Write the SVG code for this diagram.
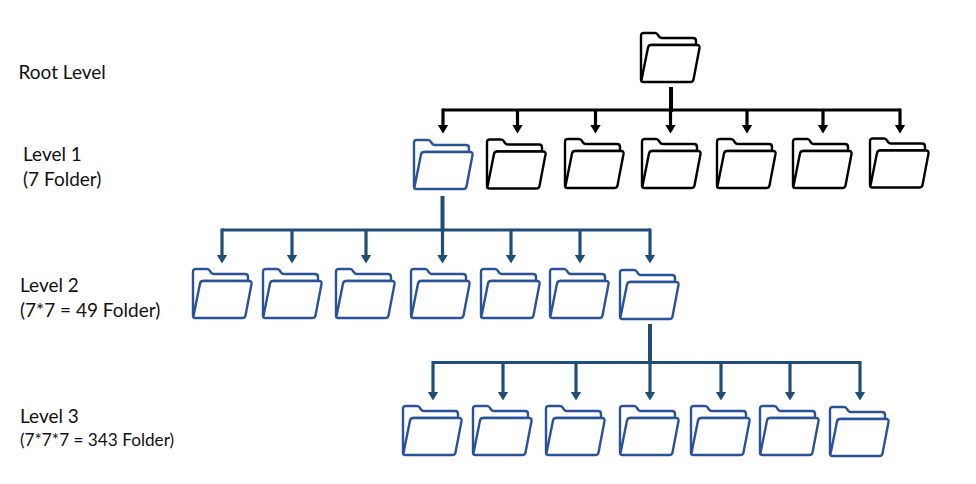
<svg xmlns="http://www.w3.org/2000/svg" width="976" height="484" viewBox="0 0 976 484">
<style>
.t{font-family:"Lato","Liberation Sans",sans-serif;font-size:19px;fill:#111}
.s{font-size:17.2px}
.f{fill:#fff;stroke-width:2.4;stroke-linejoin:round}
.k{stroke:#000}.b{stroke:#2A5298}
.c{fill:none;stroke-width:3.200}
.tk{stroke:#000}.tb{stroke:#1F4E79}
</style>
<defs>
<g id="folder">
<path d="M0 47V3Q0 0 3 0H14Q16 0 17 2L18 3.500Q19 5 21 5H52Q55 5 55 8V12H10L0 47Z"/>
<path d="M0.500 47L7 14.500Q7.500 12 10 12H56Q59 12 58.500 15L52.500 46.500Q52 49 49.500 49H2.500Q-0.500 49 0.500 47Z"/>
</g>
<marker id="ak" markerUnits="userSpaceOnUse" markerWidth="10" markerHeight="12" refX="0.500" refY="6" orient="auto"><path d="M0 0.500L9 6L0 11.500Z" fill="#000"/></marker>
<marker id="ab" markerUnits="userSpaceOnUse" markerWidth="10" markerHeight="12" refX="0.500" refY="6" orient="auto"><path d="M0 0.500L9 6L0 11.500Z" fill="#1F4E79"/></marker>
</defs>
<g id="connectors">
<path class="c tk" d="M443 110H900"/>
<path class="tk" stroke-width="4" d="M671 87V112" fill="none"/>
<g class="c tk">
<path d="M443 108.500V125" marker-end="url(#ak)"/><path d="M517.500 110V125" marker-end="url(#ak)"/><path d="M595.500 110V125" marker-end="url(#ak)"/><path d="M670.500 110V125" marker-end="url(#ak)"/><path d="M747 110V125" marker-end="url(#ak)"/><path d="M823 110V125" marker-end="url(#ak)"/><path d="M900 108.500V125" marker-end="url(#ak)"/>
</g>
<path class="c tb" d="M222 230H650"/>
<path class="tb" stroke-width="4" d="M442.500 196V231" fill="none"/>
<g class="c tb">
<path d="M222 228.500V255" marker-end="url(#ab)"/><path d="M292 230V255" marker-end="url(#ab)"/><path d="M366 230V255" marker-end="url(#ab)"/><path d="M442.500 230V255" marker-end="url(#ab)"/><path d="M511 230V255" marker-end="url(#ab)"/><path d="M580 230V255" marker-end="url(#ab)"/><path d="M650 228.500V255" marker-end="url(#ab)"/>
</g>
<path class="c tb" d="M433 362.500H860"/>
<path class="tb" stroke-width="4" d="M650 324V363" fill="none"/>
<g class="c tb">
<path d="M433 361V392" marker-end="url(#ab)"/><path d="M503 362.500V392" marker-end="url(#ab)"/><path d="M576 362.500V392" marker-end="url(#ab)"/><path d="M650 362.500V392" marker-end="url(#ab)"/><path d="M721 362.500V392" marker-end="url(#ab)"/><path d="M790 362.500V392" marker-end="url(#ab)"/><path d="M860 361V392" marker-end="url(#ab)"/>
</g>
</g>
<g id="root"><use href="#folder" class="f k" transform="translate(641 33)"/></g>
<g id="l1-1"><use href="#folder" class="f b" transform="translate(414 140)"/></g>
<g id="l1-2"><use href="#folder" class="f k" transform="translate(487 139.500)"/></g>
<g id="l1-3"><use href="#folder" class="f k" transform="translate(565 139)"/></g>
<g id="l1-4"><use href="#folder" class="f k" transform="translate(642 139)"/></g>
<g id="l1-5"><use href="#folder" class="f k" transform="translate(717 139)"/></g>
<g id="l1-6"><use href="#folder" class="f k" transform="translate(793 139)"/></g>
<g id="l1-7"><use href="#folder" class="f k" transform="translate(870 138.500)"/></g>
<g id="l2-1"><use href="#folder" class="f b" transform="translate(193 269)"/></g>
<g id="l2-2"><use href="#folder" class="f b" transform="translate(263 269)"/></g>
<g id="l2-3"><use href="#folder" class="f b" transform="translate(336 269)"/></g>
<g id="l2-4"><use href="#folder" class="f b" transform="translate(411 269)"/></g>
<g id="l2-5"><use href="#folder" class="f b" transform="translate(481 269)"/></g>
<g id="l2-6"><use href="#folder" class="f b" transform="translate(550 269)"/></g>
<g id="l2-7"><use href="#folder" class="f b" transform="translate(620 270)"/></g>
<g id="l3-1"><use href="#folder" class="f b" transform="translate(403 406)"/></g>
<g id="l3-2"><use href="#folder" class="f b" transform="translate(473 406)"/></g>
<g id="l3-3"><use href="#folder" class="f b" transform="translate(546 406)"/></g>
<g id="l3-4"><use href="#folder" class="f b" transform="translate(620 406)"/></g>
<g id="l3-5"><use href="#folder" class="f b" transform="translate(691 406)"/></g>
<g id="l3-6"><use href="#folder" class="f b" transform="translate(760 406)"/></g>
<g id="l3-7"><use href="#folder" class="f b" transform="translate(830 407)"/></g>
<g id="labels">
<text class="t" x="18.500" y="79">Root Level</text>
<text class="t" x="23" y="161">Level 1</text>
<text class="t" x="23" y="186">(7 Folder)</text>
<text class="t" x="20" y="292">Level 2</text>
<text class="t" x="20" y="317">(7*7 = 49 Folder)</text>
<text class="t" x="20" y="423">Level 3</text>
<text class="t s" x="20" y="446">(7*7*7 = 343 Folder)</text>
</g>
</svg>
